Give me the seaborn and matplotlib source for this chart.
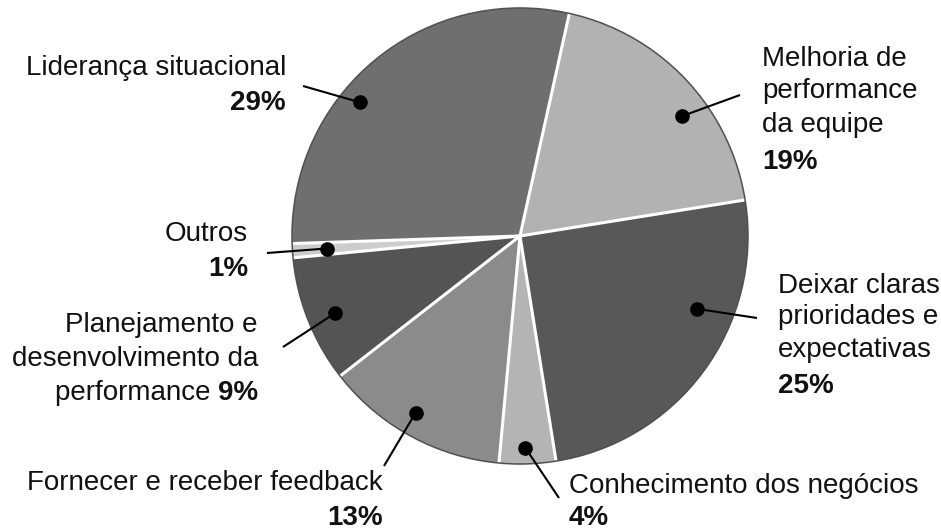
import numpy as np
import matplotlib
matplotlib.use("Agg")
import matplotlib.pyplot as plt
from matplotlib.patches import Circle
import seaborn as sns

# Slices listed clockwise, starting just right of twelve o'clock
categories = [
    "Melhoria de performance da equipe",
    "Deixar claras prioridades e expectativas",
    "Conhecimento dos negócios",
    "Fornecer e receber feedback",
    "Planejamento e desenvolvimento da performance",
    "Outros",
    "Liderança situacional",
]
shares = [19, 25, 4, 13, 9, 1, 29]
label_lines = [
    ["Melhoria de", "performance", "da equipe"],
    ["Deixar claras", "prioridades e", "expectativas"],
    ["Conhecimento dos negócios"],
    ["Fornecer e receber feedback"],
    ["Planejamento e", "desenvolvimento da", "performance"],
    ["Outros"],
    ["Liderança situacional"],
]
slice_colors = ["#b2b2b2", "#585858", "#b4b4b4", "#8b8b8b",
                "#545454", "#cdcdcd", "#6f6f6f"]

# ---- layout (pixel space, y measured from the top) ----
W, H = 941, 531
CX, CY, R = 520, 236, 228
START = 77.5

# where each callout dot sits: fraction along the wedge (clockwise), radius fraction
dot_pos = [(0.60, 0.886), (0.35, 0.838), (0.53, 0.93), (0.54, 0.90),
           (0.47, 0.88), (0.50, 0.85), (0.40, 0.915)]
# outer end of each leader line
leader_end = [(740, 95), (757, 318), (559, 498), (384, 466),
              (283, 347), (267, 253), (303, 86)]
# text anchor x, alignment, baselines of the text lines, baseline of the percentage
text_layout = [
    (762, "left", [66, 98.5, 131.5], 169),
    (778, "left", [293, 324.5, 357], 393),
    (569, "left", [493], 525),
    (383, "right", [490], 525),
    (258, "right", [332, 366, 400], None),
    (248, "right", [241], 276),
    (286, "right", [75], 110),
]

sns.set_theme(style="white")
plt.rcParams["font.family"] = ["Liberation Sans", "DejaVu Sans"]

FS = 20


def Y(py):
    return H - py


fig = plt.figure(figsize=(W / 100, H / 100), dpi=100)
ax = fig.add_axes([0, 0, 1, 1])

wedges, _ = ax.pie(
    shares,
    colors=slice_colors,
    startangle=START,
    counterclock=False,
    center=(CX, Y(CY)),
    radius=R,
    wedgeprops=dict(linewidth=0),
)

# white separators along each wedge boundary
for w in wedges:
    a = np.deg2rad(w.theta2)
    ax.plot([CX, CX + R * np.cos(a)], [Y(CY), Y(CY) + R * np.sin(a)],
            color="white", linewidth=2.2, solid_capstyle="butt", zorder=2)

ax.add_patch(Circle((CX, Y(CY)), R, fill=False, edgecolor="#505050",
                    linewidth=1.1, zorder=3))

ax.set_xlim(0, W)
ax.set_ylim(0, H)
ax.set_aspect("equal")
ax.axis("off")

# callout dots and leader lines
for w, (t, rf), (ex, ey) in zip(wedges, dot_pos, leader_end):
    ang = np.deg2rad(w.theta2 - t * (w.theta2 - w.theta1))
    dx = CX + rf * R * np.cos(ang)
    dy = Y(CY) + rf * R * np.sin(ang)
    ax.plot([dx, ex], [dy, Y(ey)], color="black", linewidth=1.5,
            solid_capstyle="butt", zorder=4)
    ax.plot(dx, dy, "o", color="black", markersize=9.5, zorder=5)

# labels
for lines, v, (tx, ha, bases, pct_base) in zip(label_lines, shares, text_layout):
    pct = f"{v}%"
    if pct_base is None:
        # percentage sits at the end of the last text line
        for line, b in zip(lines[:-1], bases[:-1]):
            ax.text(tx, Y(b), line, ha=ha, va="baseline", fontsize=FS,
                    color="#111111")
        tp = ax.text(tx, Y(bases[-1]), pct, ha="right", va="baseline",
                     fontsize=FS, fontweight="bold", color="#111111")
        ax.annotate(lines[-1] + " ", xy=(0, 0), xycoords=tp, ha="right",
                    va="bottom", fontsize=FS, color="#111111")
    else:
        for line, b in zip(lines, bases):
            ax.text(tx, Y(b), line, ha=ha, va="baseline", fontsize=FS,
                    color="#111111")
        ax.text(tx, Y(pct_base), pct, ha=ha, va="baseline", fontsize=FS,
                fontweight="bold", color="#111111")

fig.savefig("out.png", dpi=100, facecolor="white")
